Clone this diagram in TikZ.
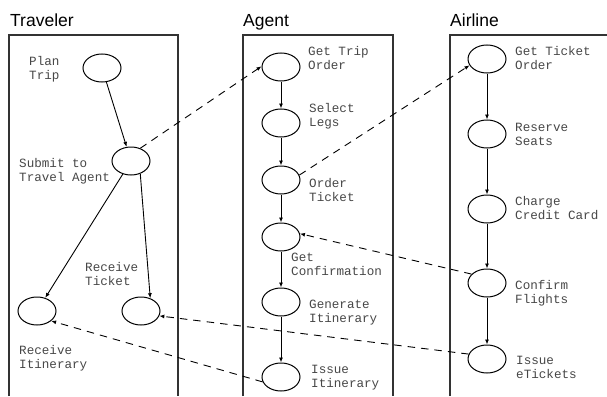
\documentclass[tikz,border=0pt]{standalone}
\usepackage{fontspec}
\setmainfont{Liberation Sans}
\newfontfamily\labfont{Liberation Mono}
\usetikzlibrary{arrows.meta,shapes.geometric}
\begin{document}
\begin{tikzpicture}[x=1pt,y=-1pt,
  act/.style={ellipse,draw=black,line width=1pt,minimum width=38pt,minimum height=28pt,inner sep=0pt},
  lab/.style={anchor=base west,inner sep=0pt,align=left,text=black!72,font=\labfont\fontsize{12.6}{14}\selectfont},
  ttl/.style={anchor=base west,inner sep=0pt,font=\fontsize{17.5}{20}\selectfont},
  lane/.style={draw=black!80,line width=1.4pt},
  flow/.style={draw=black,line width=0.9pt,-{Latex[length=5pt,width=4pt]}},
  msg/.style={draw=black,line width=0.9pt,dash pattern=on 7.5pt off 6pt,-{Latex[length=5pt,width=4pt]}}]
\useasboundingbox (0,0) rectangle (607,396);
% lanes
\draw[lane] (9,396) -- (9,35) -- (178,35) -- (178,396);
\draw[lane] (243,396) -- (243,35) -- (393,35) -- (393,396);
\draw[lane] (450,396) -- (450,35) -- (607,35);
\node[ttl] (t1) at (10,27) {Traveler};
\node[ttl] (t2) at (243,27) {Agent};
\node[ttl] (t3) at (450,27) {Airline};
% traveler
\node[act] (plan) at (102,68) {};
\node[act] (submit) at (131,161) {};
\node[act] (recitin) at (37,311) {};
\node[act] (recticket) at (141,311) {};
\node[lab] (lplan) at (29,79) {Plan\\Trip};
\node[lab] (lsubmit) at (19,181) {Submit to\\Travel Agent};
\node[lab] (lrecticket) at (85,285) {Receive\\Ticket};
\node[lab] (lrecitin) at (19,368) {Receive\\Itinerary};
% agent
\node[act] (gettrip) at (281,67) {};
\node[act] (legs) at (281,123) {};
\node[act] (order) at (281,180) {};
\node[act] (getconf) at (281,237) {};
\node[act] (gen) at (281,302) {};
\node[act] (issueitin) at (281,377) {};
\node[lab] (lgettrip) at (308,70) {Get Trip\\Order};
\node[lab] (llegs) at (309,126) {Select\\Legs};
\node[lab] (lorder) at (309,201) {Order\\Ticket};
\node[lab] (lgetconf) at (291,275) {Get\\Confirmation};
\node[lab] (lgen) at (309,322) {Generate\\Itinerary};
\node[lab] (lissueitin) at (311,387) {Issue\\Itinerary};
% airline
\node[act] (getticket) at (487,59) {};
\node[act] (reserve) at (487,134) {};
\node[act] (charge) at (487,209) {};
\node[act] (confirm) at (487,283) {};
\node[act] (etickets) at (487,359) {};
\node[lab] (lgetticket) at (515,70) {Get Ticket\\Order};
\node[lab] (lreserve) at (515,145) {Reserve\\Seats};
\node[lab] (lcharge) at (515,219) {Charge\\Credit Card};
\node[lab] (lconfirm) at (515,303) {Confirm\\Flights};
\node[lab] (letickets) at (516,378) {Issue\\eTickets};
% flows
\draw[flow] (plan) -- (submit);
\draw[flow] (submit) -- (recitin);
\draw[flow] (submit.-54) -- (recticket.54);
\draw[flow] (gettrip) -- (legs);
\draw[flow] (legs) -- (order);
\draw[flow] (order) -- (getconf);
\draw[flow] (getconf) -- (gen);
\draw[flow] (gen) -- (issueitin);
\draw[flow] (getticket) -- (reserve);
\draw[flow] (reserve) -- (charge);
\draw[flow] (charge) -- (confirm);
\draw[flow] (confirm) -- (etickets);
% messages
\draw[msg] (submit.54) -- (gettrip.178);
\draw[msg] (order.15) -- (getticket.200);
\draw[msg] (confirm.150) -- (getconf.10);
\draw[msg] (issueitin.195) -- (recitin.-35);
\draw[msg] (etickets.165) -- (recticket.-15);
\end{tikzpicture}
\end{document}
